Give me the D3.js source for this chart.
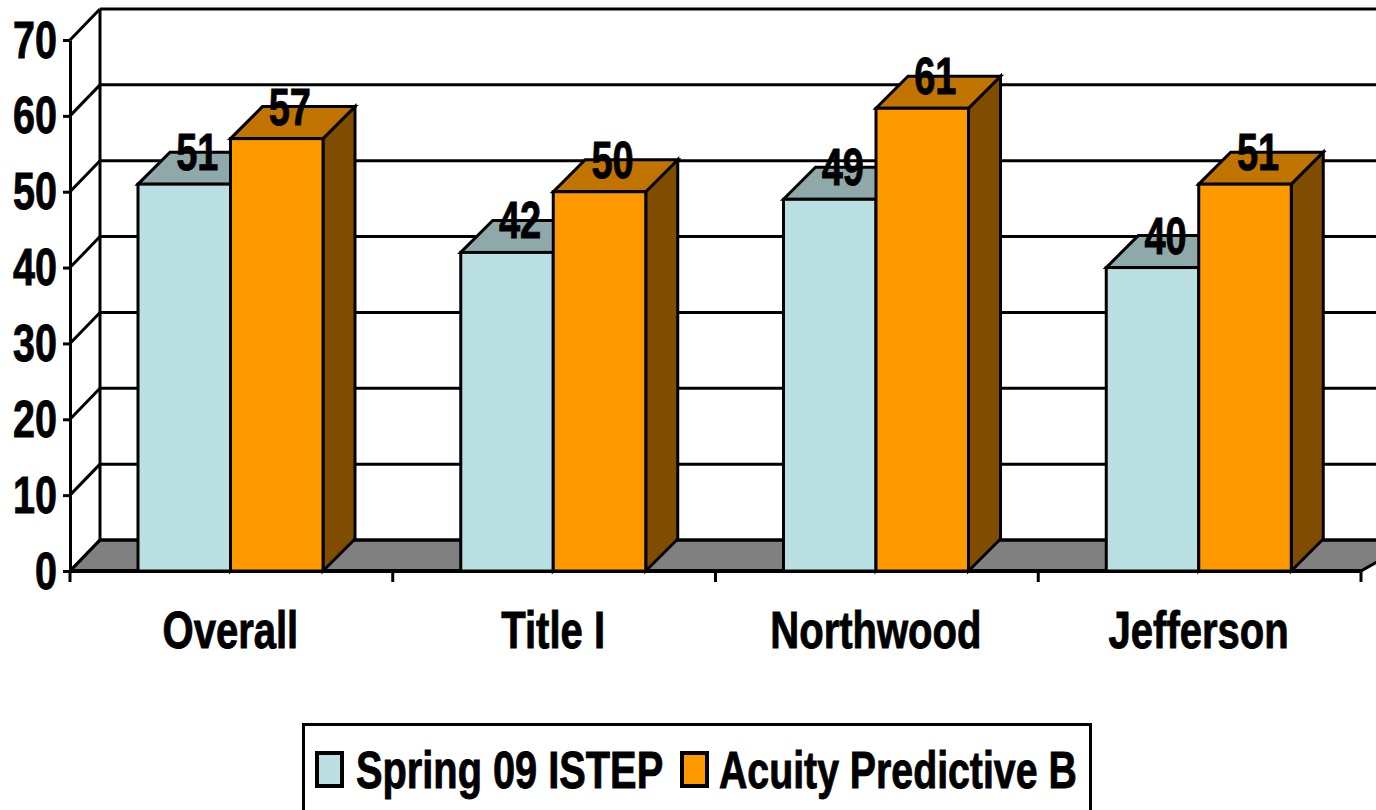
<!DOCTYPE html>
<html><head><meta charset="utf-8">
<script src="https://cdn.jsdelivr.net/npm/d3@7"></script>
<style>
html,body{margin:0;padding:0;background:#fff;overflow:hidden}
text{font-family:"Liberation Sans",Arial,sans-serif;font-weight:700;fill:#000;stroke:#000;stroke-width:0.9px}
</style></head><body>
<svg id="c" width="1376" height="810"></svg>
<script>
const categories = ["Overall","Title I","Northwood","Jefferson"];
const seriesNames = ["Spring 09 ISTEP","Acuity Predictive B"];
const spring = [51,42,49,40];
const acuity = [57,50,61,51];
const yTicks = [0,10,20,30,40,50,60,70];
const faceColors = ["#bbe0e3","#ff9900"];
const topColors = ["#8fa9aa","#c27400"];
const sideColors = ["#6b8183","#804d00"];

const svg = d3.select("#c");
const x0 = d3.scaleBand().domain(categories).range([70,1361]);
const x1 = d3.scaleBand().domain([0,1]).range([68,253]);
const y = d3.scaleLinear().domain([0,70]).range([571,40]);
const wallDx = 30, wallDy = -31, barD = 32;
const SW = 3;
const right = 1376;

// floor
const fl = y(0);
svg.append("path")
  .attr("d",`M${x0.range()[0]},${fl}L${x0.range()[0]+wallDx},${fl+wallDy}L${right+40},${fl+wallDy}L${x0.range()[1]},${fl}Z`)
  .attr("fill","#808080").attr("stroke","#000").attr("stroke-width",SW);

// walls and gridlines
yTicks.forEach(t=>{
  const yy=y(t);
  svg.append("line").attr("x1",70).attr("y1",yy).attr("x2",70+wallDx).attr("y2",yy+wallDy).attr("stroke","#000").attr("stroke-width",SW);
  svg.append("line").attr("x1",70+wallDx).attr("y1",yy+wallDy).attr("x2",right).attr("y2",yy+wallDy).attr("stroke","#000").attr("stroke-width",SW);
});
svg.append("line").attr("x1",70+wallDx).attr("x2",70+wallDx).attr("y1",y(70)+wallDy).attr("y2",y(0)+wallDy).attr("stroke","#000").attr("stroke-width",SW);

// y axis
const ax = svg.append("g").attr("transform","translate(70,0)")
  .call(d3.axisLeft(y).tickValues(yTicks).tickSize(7).tickSizeOuter(0));
ax.select(".domain").attr("stroke","#000").attr("stroke-width",SW);
ax.selectAll(".tick line").attr("stroke","#000").attr("stroke-width",SW);
ax.selectAll(".tick text")
  .attr("x",0).attr("y",0).attr("dy",null)
  .attr("text-anchor","end").attr("font-size",52)
  .attr("transform","translate(-13,17) scale(0.76,1)");

// x axis base line and ticks
const xt = svg.append("g");
xt.append("line").attr("x1",70).attr("x2",1362).attr("y1",fl).attr("y2",fl).attr("stroke","#000").attr("stroke-width",SW+1);
categories.map(c=>x0(c)).concat([x0.range()[1]]).forEach(px=>{
  xt.append("line").attr("x1",px).attr("x2",px).attr("y1",fl).attr("y2",fl+11).attr("stroke","#000").attr("stroke-width",SW);
});
xt.selectAll("text.cat").data(categories).join("text").attr("class","cat")
  .attr("text-anchor","middle").attr("font-size",52)
  .attr("transform",c=>`translate(${x0(c)+x0.bandwidth()/2-1},648) scale(0.77,1)`)
  .text(d=>d);

// bars
const rows = [spring,acuity];
const labels=[];
categories.forEach((c,i)=>{
  rows.forEach((vals,s)=>{
    const v=vals[i], L=x0(c)+x1(s), R=L+x1.bandwidth(), T=y(v), B=y(0);
    const g=svg.append("g").attr("stroke","#000").attr("stroke-width",SW).attr("stroke-linejoin","miter");
    g.append("path").attr("d",`M${R},${T}L${R+barD},${T-barD}L${R+barD},${B-barD}L${R},${B}Z`).attr("fill",sideColors[s]);
    g.append("path").attr("d",`M${L},${T}L${L+barD},${T-barD}L${R+barD},${T-barD}L${R},${T}Z`).attr("fill",topColors[s]);
    g.append("rect").attr("x",L).attr("y",T).attr("width",R-L).attr("height",B-T).attr("fill",faceColors[s]);
    labels.push({v,x:(L+R)/2+13,y:T-14});
  });
});
svg.append("g").selectAll("text").data(labels).join("text")
  .attr("text-anchor","middle").attr("font-size",52)
  .attr("transform",d=>`translate(${d.x},${d.y}) scale(0.73,1)`)
  .text(d=>d.v);

// legend
const lg = svg.append("g");
lg.append("rect").attr("x",303.5).attr("y",724.5).attr("width",787).attr("height",120)
  .attr("fill","#fff").attr("stroke","#000").attr("stroke-width",SW);
const legendX=[{sw:317,tx:356,k:0.765},{sw:682,tx:719,k:0.755}];
seriesNames.forEach((n,s)=>{
  lg.append("rect").attr("x",legendX[s].sw).attr("y",753).attr("width",25).attr("height",33)
    .attr("fill",faceColors[s]).attr("stroke","#000").attr("stroke-width",SW+1);
  lg.append("text").attr("font-size",52)
    .attr("transform",`translate(${legendX[s].tx},788) scale(${legendX[s].k},1)`).text(n);
});
</script>
</body></html>
